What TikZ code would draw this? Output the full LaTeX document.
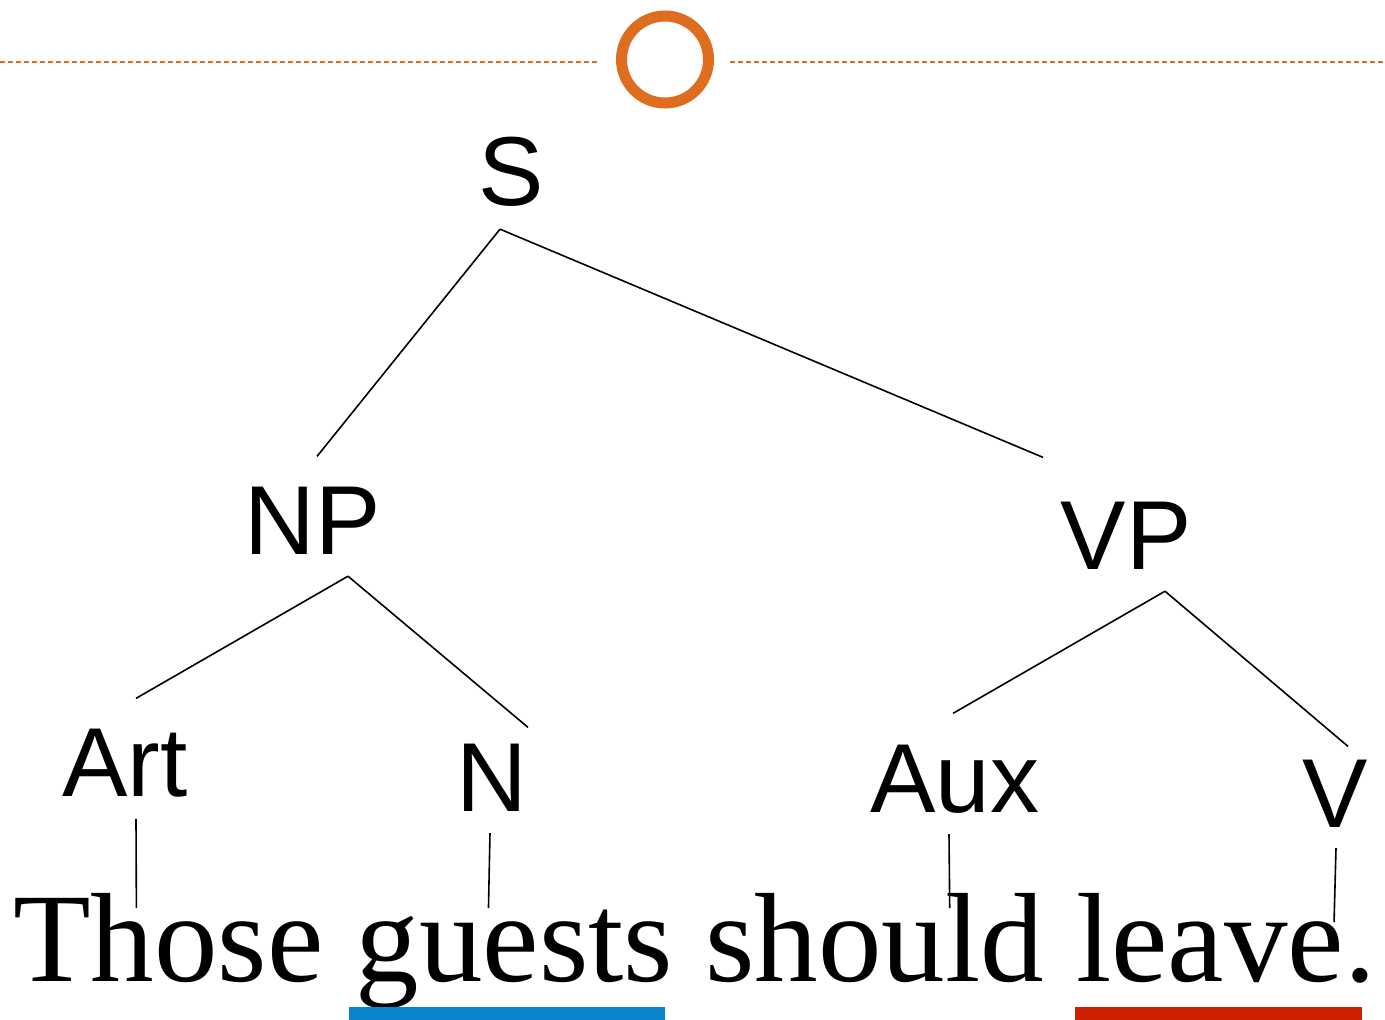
\documentclass[tikz,border=0pt]{standalone}
\usepackage{fontspec}
\usepackage{xcolor}
\usepackage{tikz}
\usetikzlibrary{positioning}
\setmainfont{Liberation Serif}
\newfontfamily\labfont{Liberation Sans}
\definecolor{accent}{RGB}{222,109,31}
\definecolor{ulblue}{RGB}{10,133,207}
\definecolor{ulred}{RGB}{204,32,0}
\tikzset{
  lab/.style={inner sep=0pt,anchor=base,font=\labfont\fontsize{98}{98}\selectfont},
  word/.style={inner sep=0pt,font=\fontsize{127}{127}\selectfont},
  branch/.style={line width=1.6pt,black},
  ring/.style={circle,draw=accent,line width=11pt,minimum size=87pt,inner sep=0pt},
  rule/.style={accent,line width=1.8pt,dash pattern=on 5pt off 3pt}
}
\begin{document}
\begin{tikzpicture}[x=1pt,y=-1pt]
\useasboundingbox (0,0) rectangle (1385,1020);

\node[ring] (ring) at (665,59.5) {};
\coordinate (ruleL) at (0,62);
\coordinate (ruleR) at (1385,62);
\draw[rule] (ruleL) -- ([xshift=-18pt,yshift=-2.5pt]ring.west);
\draw[rule] ([xshift=16pt,yshift=-2.5pt]ring.east) -- (ruleR);

\node[lab] (S) at (511,205) {S};
\node[lab] (NP) at (313,554) {NP};
\node[lab] (VP) at (1126,569) {VP};
\node[lab] (Art) at (125,796) {Art};
\node[lab] (N) at (492,811) {N};
\node[lab] (Aux) at (955,812) {Aux};
\node[lab] (V) at (1335,827) {V};

\node[word,anchor=base west] (those) at (13,981) {Those};
\node[word,base right=31.75pt of those] (guests) {guests};
\node[word,base right=31.75pt of guests] (should) {should};
\node[word,base right=31.75pt of should] (leave) {leave.};

\draw[branch] ([xshift=-11pt,yshift=-23pt]S.south) -- ([xshift=4pt,yshift=30pt]NP.north);
\draw[branch] ([xshift=-11pt,yshift=-23pt]S.south) -- ([xshift=-83pt,yshift=44pt]VP.north);
\draw[branch] ([xshift=35pt,yshift=-22pt]NP.south) -- ([xshift=11pt,yshift=30pt]Art.north);
\draw[branch] ([xshift=35pt,yshift=-22pt]NP.south) -- ([xshift=36pt,yshift=16pt]N.north);
\draw[branch] ([xshift=39pt,yshift=-22pt]VP.south) -- ([xshift=-2pt,yshift=31pt]Aux.north);
\draw[branch] ([xshift=39pt,yshift=-22pt]VP.south) -- ([xshift=13pt,yshift=13pt]V.north);

\draw[branch] ([xshift=11pt,yshift=-22pt]Art.south) -- ([xshift=-32pt,yshift=73pt]those.base);
\draw[branch] ([xshift=-2pt,yshift=-22pt]N.south) -- ([xshift=-26pt,yshift=73pt]guests.base);
\draw[branch] ([xshift=-6pt,yshift=-21pt]Aux.south) -- ([xshift=75pt,yshift=73pt]should.base);
\draw[branch] ([xshift=1pt,yshift=-21pt]V.south) -- ([xshift=108pt,yshift=59pt]leave.base);

\fill[ulblue] ([xshift=-7pt,yshift=-26pt]guests.base west) rectangle ([xshift=-8pt,yshift=-40pt]guests.base east);
\fill[ulred] ([xshift=-1.5pt,yshift=-26pt]leave.base west) rectangle ([xshift=-14.5pt,yshift=-40pt]leave.base east);
\end{tikzpicture}
\end{document}
